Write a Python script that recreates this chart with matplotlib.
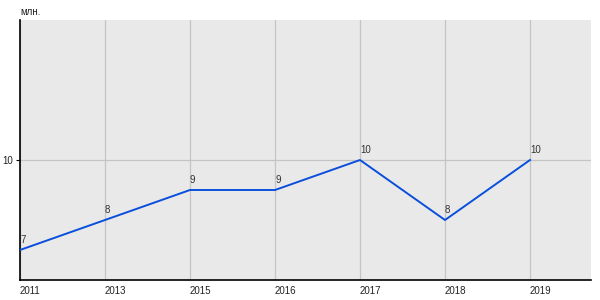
import matplotlib
matplotlib.use("Agg")
import matplotlib.pyplot as plt

plt.rcParams["font.family"] = ["Liberation Sans", "DejaVu Sans"]

years = ["2011", "2013", "2015", "2016", "2017", "2018", "2019"]
values = [7, 8, 9, 9, 10, 8, 10]
labels = ["7", "8", "9", "9", "10", "8", "10"]
yticks = [10]
unit = "млн."

fig = plt.figure(figsize=(6, 3), dpi=100)
ax = fig.add_axes([20/600, 20/300, 571/600, 260/300])
ax.set_facecolor("#e9e9e9")
x = list(range(len(years)))
ax.plot(x, values, color="#0a4fdc", lw=1.4, zorder=3)
for xi, v, lab in zip(x, values, labels):
    ax.annotate(lab, (xi, v), xytext=(0, 3.5), textcoords="offset points",
                ha="left", va="bottom", fontsize=7, color="#333333")
ax.set_xlim(0, 6 + 61/85)
ax.set_ylim(6, 14 + 2/3)
ax.set_xticks(x)
ax.set_xticklabels(years, ha="left", fontsize=7, color="#222222")
ax.set_yticks(yticks)
ax.set_yticklabels([str(t) for t in yticks], fontsize=7, color="#222222")
ax.tick_params(axis="x", length=0, pad=4)
ax.tick_params(axis="y", length=3, width=0.8, pad=2)
ax.grid(True, color="#c4c4c4", lw=0.9)
ax.set_axisbelow(True)
for s in ["top", "right"]:
    ax.spines[s].set_visible(False)
for s in ["left", "bottom"]:
    ax.spines[s].set_color("black")
    ax.spines[s].set_linewidth(1.2)
fig.text(20/600, 1 - 12/300, unit, fontsize=7, color="#222222", va="center", ha="left")
fig.savefig("out.png", dpi=100)
